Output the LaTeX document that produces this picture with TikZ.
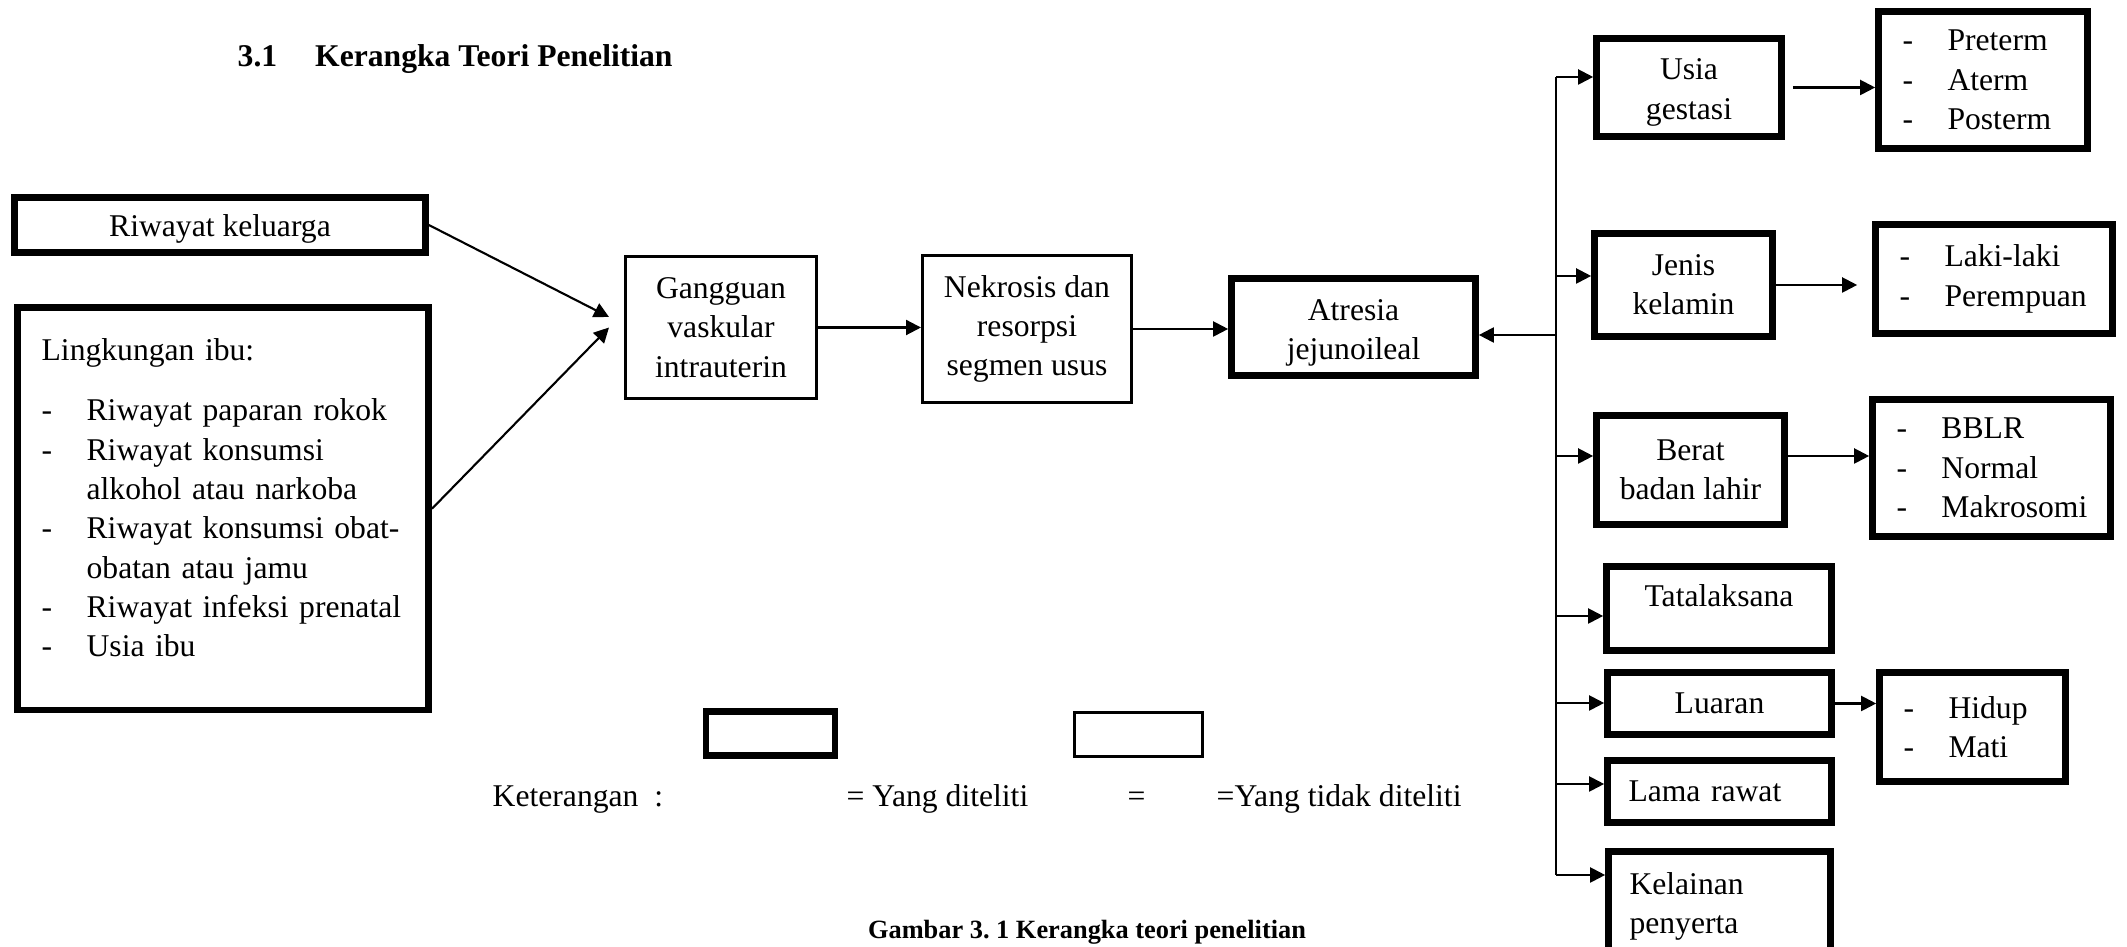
\documentclass[tikz,border=0pt]{standalone}
\usepackage{fontspec}
\setmainfont{Liberation Serif}
\usepackage{tikz}
\usetikzlibrary{positioning, arrows.meta, calc}
\frenchspacing

\newcommand{\dashitem}[1]{\makebox[0.45cm][l]{-}#1}
\newcommand{\itemcont}[1]{\hspace*{0.45cm}#1}

\begin{document}
\begin{tikzpicture}[
  font=\fontsize{9}{11.2}\selectfont,
  thinbox/.style={draw, line width=0.85pt, align=center, inner sep=0pt},
  thickbox/.style={draw, line width=1.9pt, align=center, inner sep=0pt},
  listbox/.style={draw, line width=1.9pt, align=left, inner xsep=0.24cm, inner ysep=0pt},
  plain/.style={anchor=base west, inner sep=0pt},
  arr/.style={-{Triangle[length=0.15cm, width=0.15cm]}, line width=0.6pt}
]
\useasboundingbox (0,0) rectangle (21.27,9.47);

\node[plain, font=\fontsize{9}{11.2}\selectfont\bfseries] (judul) at (2.37,8.80) {3.1\hspace{0.38cm}Kerangka Teori Penelitian};

\node[thickbox, minimum width=4.11cm, minimum height=0.55cm, text height=0.30cm] (riwayat) at (2.20,7.22) {Riwayat keluarga};
\node[listbox, anchor=north west, text width=3.63cm, inner ysep=0.31cm] (lingkungan) at (0.143,6.427) {Lingkungan ibu:\\[5.9pt]
  \dashitem{Riwayat paparan rokok}\\
  \dashitem{Riwayat konsumsi}\\
  \itemcont{alkohol atau narkoba}\\
  \dashitem{Riwayat konsumsi obat-}\\
  \itemcont{obatan atau jamu}\\
  \dashitem{Riwayat infeksi prenatal}\\
  \dashitem{Usia ibu}\rule[-0.22cm]{0pt}{0pt}};

\node[thinbox, minimum width=1.91cm, minimum height=1.42cm] (gangguan) at (7.21,6.195) {Gangguan\\vaskular\\intrauterin};
\node[thinbox, minimum width=2.09cm, minimum height=1.47cm] (nekrosis) at (10.27,6.18) {Nekrosis dan\\resorpsi\\segmen usus};
\node[thickbox, minimum width=2.44cm, minimum height=0.97cm] (atresia) at (13.535,6.20) {\rule{0pt}{0.33cm}Atresia\\jejunoileal};

\node[thickbox, minimum width=1.85cm, minimum height=0.98cm] (usia) at (16.89,8.595) {\rule{0pt}{0.31cm}Usia\\gestasi};
\node[listbox, text width=1.61cm, minimum height=1.37cm] (preterm) at (19.83,8.67) {\dashitem{Preterm}\\\dashitem{Aterm}\\\dashitem{Posterm}};
\node[thickbox, minimum width=1.78cm, minimum height=1.03cm] (jenis) at (16.835,6.62) {Jenis\\kelamin};
\node[listbox, text width=1.89cm, minimum height=1.09cm] (laki) at (19.94,6.68) {\dashitem{Laki-laki}\\\dashitem{Perempuan}};
\node[thickbox, minimum width=1.88cm, minimum height=1.085cm] (berat) at (16.905,4.77) {Berat\\badan lahir};
\node[listbox, text width=1.90cm, minimum height=1.37cm] (bblr) at (19.915,4.79) {\dashitem{BBLR}\\\dashitem{Normal}\\\dashitem{Makrosomi}};
\node[thickbox, minimum width=2.25cm, minimum height=0.84cm, text depth=0.25cm] (tata) at (17.19,3.385) {Tatalaksana};
\node[thickbox, minimum width=2.24cm, minimum height=0.62cm] (luaran) at (17.195,2.435) {Luaran};
\node[listbox, text width=1.38cm, minimum height=1.09cm] (hidup) at (19.725,2.20) {\dashitem{Hidup}\\\dashitem{Mati}};
\node[listbox, inner xsep=0.21cm, text width=1.82cm, minimum height=0.62cm] (lama) at (17.195,1.555) {Lama rawat};
\node[listbox, inner xsep=0.21cm, text width=1.80cm, minimum height=1.10cm] (kelainan) at (17.195,0.405) {Kelainan\\penyerta};

\node[thickbox, minimum width=1.29cm, minimum height=0.44cm] (legthick) at (7.705,2.135) {};
\node[thinbox, minimum width=1.28cm, minimum height=0.44cm] (legthin) at (11.385,2.125) {};
\node[plain] (ket) at (4.92,1.40) {Keterangan~~:};
\node[plain] (ketdit) at (8.46,1.40) {= Yang diteliti};
\node[plain] (keteq) at (11.27,1.40) {=};
\node[plain] (kettdk) at (12.16,1.40) {=Yang tidak diteliti};

\node[anchor=base, inner sep=0pt, font=\fontsize{7.5}{9}\selectfont\bfseries] (gambar) at (10.87,0.08) {Gambar 3. 1 Kerangka teori penelitian};

\coordinate (in-a) at ([xshift=-0.15cm, yshift=0.105cm]gangguan.west);
\coordinate (in-b) at ([xshift=-0.15cm]gangguan.west);
\draw[arr] (riwayat.east) -- (in-a);
\draw[arr] (lingkungan.east) -- (in-b);
\draw[arr] (gangguan.east) -- (gangguan.east -| nekrosis.west);
\draw[arr] (nekrosis.east) -- (nekrosis.east -| atresia.west);

\coordinate (bus-top) at (15.56,8.70);
\coordinate (bus-atr) at (15.56,6.12);
\coordinate (bus-jenis) at (15.56,6.71);
\coordinate (bus-berat) at (15.56,4.91);
\coordinate (bus-tata) at (15.56,3.31);
\coordinate (bus-luaran) at (15.56,2.44);
\coordinate (bus-lama) at (15.56,1.63);
\coordinate (bus-bot) at (15.56,0.72);
\draw[line width=0.6pt] (bus-top) -- (bus-bot);
\draw[arr] (bus-atr) -- (bus-atr -| atresia.east);
\draw[arr] (bus-top) -- (bus-top -| usia.west);
\draw[arr] (bus-jenis) -- (bus-jenis -| jenis.west);
\draw[arr] (bus-berat) -- (bus-berat -| berat.west);
\draw[arr] (bus-tata) -- (bus-tata -| tata.west);
\draw[arr] (bus-luaran) -- (bus-luaran -| luaran.west);
\draw[arr] (bus-lama) -- (bus-lama -| lama.west);
\draw[arr] (bus-bot) -- (bus-bot -| kelainan.west);

\draw[arr] ([xshift=0.08cm]usia.east) -- (usia.east -| preterm.west);
\draw[arr] (jenis.east) -- ([xshift=-0.15cm]jenis.east -| laki.west);
\draw[arr] (berat.east |- bus-berat) -- (bus-berat -| bblr.west);
\draw[arr] (luaran.east) -- (luaran.east -| hidup.west);
\end{tikzpicture}
\end{document}
